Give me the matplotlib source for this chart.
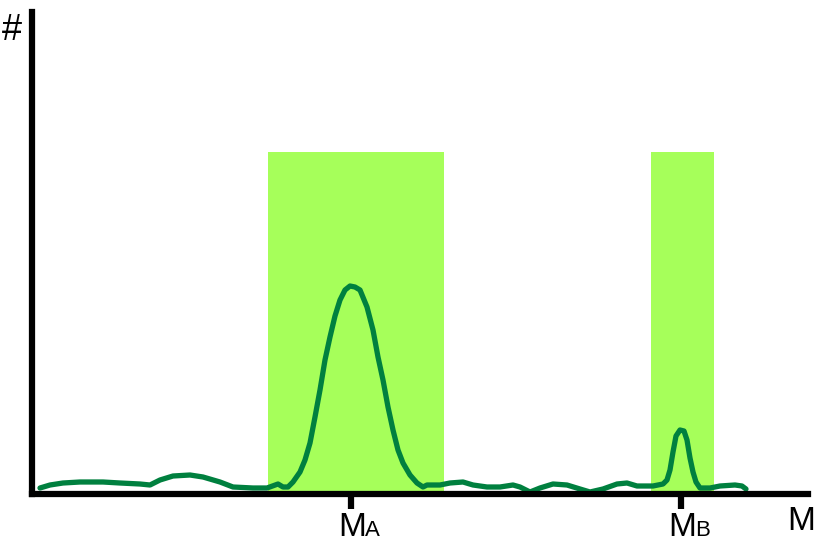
import matplotlib
matplotlib.use("Agg")
import matplotlib.pyplot as plt

plt.rcParams['font.family'] = ['Liberation Sans', 'DejaVu Sans']

# valores (unidades arbitrarias de masa / cuentas)
masa = [40, 50, 63, 80, 103, 120, 140, 150, 160, 173, 190, 203, 220, 233, 253, 267,
        278, 283, 288, 293, 300, 305, 310, 315, 320, 325, 330, 335, 340, 345, 350,
        355, 360, 367, 373, 378, 383, 388, 393, 398, 403, 410, 417, 423, 427, 440,
        450, 463, 473, 487, 500, 513, 520, 530, 540, 553, 567, 580, 590, 603, 617,
        627, 637, 653, 663, 667, 670, 673, 676, 680, 684, 687, 690, 693, 696, 700,
        710, 720, 735, 742, 746]
cuentas = [6, 9, 11, 12, 12, 11, 10, 9, 14, 18, 19, 17, 12, 7, 6, 6,
           10, 7, 7, 12, 22, 34, 51, 77, 104, 134, 157, 178, 194, 204, 208,
           207, 204, 187, 164, 137, 114, 87, 64, 44, 31, 19, 11, 7, 9, 9,
           11, 12, 9, 7, 7, 9, 7, 2, 6, 10, 9, 5, 2, 5, 10,
           11, 8, 8, 10, 14, 24, 42, 58, 64, 63, 54, 36, 22, 12, 6,
           6, 8, 9, 8, 5]

ventanas = [(268, 444), (651, 714)]
altura_ventana = 342
picos = [351, 681]
etiquetas = ['A', 'B']

fig = plt.figure(figsize=(8.17, 5.44), dpi=100)
W, H = 817, 544
ax = fig.add_axes([32 / W, (H - 494) / H, (808 - 32) / W, (494 - 12) / H])
ax.set_xlim(32, 808)
ax.set_ylim(0, 482)

for x0, x1 in ventanas:
    ax.bar(x0, altura_ventana, width=x1 - x0, align='edge', color='#a6ff5a', zorder=1)

ax.plot(masa, cuentas, color='#00803f', lw=3.8, solid_capstyle='round',
        solid_joinstyle='round', zorder=2)

for s in ['top', 'right']:
    ax.spines[s].set_visible(False)
for s in ['left', 'bottom']:
    ax.spines[s].set_linewidth(4.5)
    ax.spines[s].set_capstyle('projecting')
ax.set_yticks([])
ax.set_xticks(picos)
ax.set_xticklabels([])
ax.tick_params(axis='x', length=11, width=4.5, direction='out')

# etiquetas M_A, M_B
for xm, let in zip(picos, etiquetas):
    fig.text((xm - 13) / W, 1 - 536 / H, 'M', fontsize=24, ha='left', va='baseline')
    fig.text((xm + 14) / W, 1 - 536 / H, let, fontsize=16, ha='left', va='baseline')

fig.text(787 / W, 1 - 530 / H, 'M', fontsize=24, ha='left', va='baseline')
fig.text(2 / W, 1 - 40 / H, '#', fontsize=26, ha='left', va='baseline')

fig.savefig('out.png', dpi=100)
